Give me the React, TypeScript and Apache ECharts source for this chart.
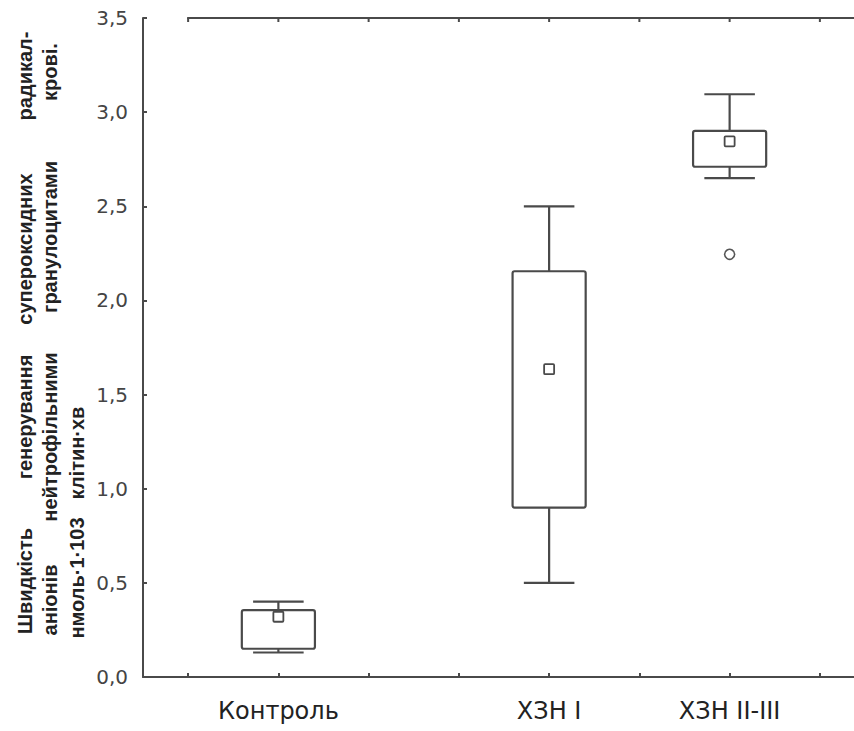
import React, { useEffect, useRef } from "react";
import * as echarts from "echarts";

// Category slots along the x axis (blank slots carry ticks only)
const categories = ["", "Контроль", "", "", "ХЗН I", "", "ХЗН II-III", ""];

// Box-plot statistics per group
const groups = ["Контроль", "ХЗН I", "ХЗН II-III"];
const whiskerLow = [0.13, 0.5, 2.65];
const quartile1 = [0.15, 0.9, 2.71];
const quartile3 = [0.355, 2.155, 2.9];
const whiskerHigh = [0.4, 2.5, 3.095];
const means = [0.32, 1.635, 2.845];

// Outliers
const outlierGroups = ["ХЗН II-III"];
const outlierValues = [2.245];

// Y tick labels
const yTicks = ["0,0", "0,5", "1,0", "1,5", "2,0", "2,5", "3,0", "3,5"];
const yMax = 3.5;

// Y-axis title words: [column, word]
const yTitleWords: [number, string][] = [
  [0, "Швидкість"],
  [0, "генерування"],
  [0, "супероксидних"],
  [0, "радикал-"],
  [1, "аніонів"],
  [1, "нейтрофільними"],
  [1, "гранулоцитами"],
  [1, "крові."],
  [2, "нмоль·1·103"],
  [2, "клітин·хв"],
];
// layout (pixel centres) for the title words, same order
const yTitleCols = [25, 50, 77];
const yTitleCentres = [581, 417, 249, 76, 600, 437, 237, 72, 578, 453];

const LINE = "#4a4a4a";

export default function App() {
  const ref = useRef<HTMLDivElement>(null);
  useEffect(() => {
    if (!ref.current) return;
    const chart = echarts.init(ref.current, undefined, { renderer: "svg" });
    const boxData = groups.map((g, i) => [
      categories.indexOf(g),
      whiskerLow[i],
      quartile1[i],
      quartile3[i],
      whiskerHigh[i],
      means[i],
    ]);
    const outData = outlierGroups.map((g, i) => [categories.indexOf(g), outlierValues[i]]);

    const titleGraphic: any[] = yTitleWords.map(([col, word], i) => ({
      type: "text",
      x: yTitleCols[col],
      y: yTitleCentres[i],
      rotation: Math.PI / 2,
      z: 1,
      style: {
        text: word,
        fill: "#222",
        font: "bold 20px 'Liberation Sans', Arial, sans-serif",
        textAlign: "center",
        textVerticalAlign: "middle",
      },
    }));

    chart.setOption({
      animation: false,
      backgroundColor: "#ffffff",
      grid: { left: 143, top: 18, right: 1, bottom: 54 },
      graphic: titleGraphic,
      xAxis: [
        {
          type: "category",
          data: categories,
          position: "bottom",
          axisLine: { show: true, onZero: false, lineStyle: { color: LINE, width: 2 } },
          axisTick: {
            show: true,
            inside: true,
            alignWithLabel: true,
            length: 4,
            lineStyle: { color: LINE, width: 2 },
          },
          axisLabel: {
            show: true,
            interval: 0,
            margin: 22,
            color: "#222",
            fontSize: 24,
            fontFamily: "'DejaVu Sans', sans-serif",
          },
          splitLine: { show: false },
        },
      ],
      yAxis: [
        {
          type: "value",
          min: 0,
          max: yMax,
          interval: 0.5,
          position: "left",
          axisLine: { show: true, onZero: false, lineStyle: { color: LINE, width: 2 } },
          axisTick: { show: true, inside: true, length: 4, lineStyle: { color: LINE, width: 2 } },
          axisLabel: {
            margin: 15,
            color: "#444",
            fontSize: 20,
            fontFamily: "'DejaVu Sans', sans-serif",
            formatter: (v: number) => yTicks[Math.round(v / 0.5)] ?? "",
          },
          splitLine: { show: false },
        },
      ],
      series: [
        {
          type: "custom",
          xAxisIndex: 0,
          yAxisIndex: 0,
          data: boxData,
          encode: { x: 0, y: [1, 2, 3, 4, 5] },
          renderItem: (params: any, api: any) => {
            const xi = api.value(0);
            const low = api.coord([xi, api.value(1)]);
            const q1 = api.coord([xi, api.value(2)]);
            const q3 = api.coord([xi, api.value(3)]);
            const high = api.coord([xi, api.value(4)]);
            const mean = api.coord([xi, api.value(5)]);
            const band = api.size([1, 0])[0];
            const bw = band * 0.81;
            const cw = band * 0.56;
            const cx = q1[0];
            const st = { stroke: LINE, lineWidth: 2.2, fill: "none" };
            const ms = 10;
            return {
              type: "group",
              children: [
                { type: "line", shape: { x1: cx, y1: high[1], x2: cx, y2: q3[1] }, style: st },
                { type: "line", shape: { x1: cx, y1: q1[1], x2: cx, y2: low[1] }, style: st },
                { type: "line", shape: { x1: cx - cw / 2, y1: high[1], x2: cx + cw / 2, y2: high[1] }, style: st },
                { type: "line", shape: { x1: cx - cw / 2, y1: low[1], x2: cx + cw / 2, y2: low[1] }, style: st },
                {
                  type: "rect",
                  shape: { x: cx - bw / 2, y: q3[1], width: bw, height: q1[1] - q3[1], r: 2 },
                  style: { stroke: LINE, lineWidth: 2.2, fill: "rgba(255,255,255,0)" },
                },
                {
                  type: "rect",
                  shape: { x: cx - ms / 2, y: mean[1] - ms / 2, width: ms, height: ms, r: 1 },
                  style: { stroke: LINE, lineWidth: 1.8, fill: "#ffffff" },
                },
              ],
            };
          },
        },
        {
          type: "scatter",
          xAxisIndex: 0,
          yAxisIndex: 0,
          data: outData,
          symbol: "circle",
          symbolSize: 10,
          itemStyle: { color: "#ffffff", borderColor: "#555", borderWidth: 1.6, opacity: 1 },
        },
      ],
    });

    // Top frame edge and its inward ticks, positioned through the chart's own scales
    const yTop = chart.convertToPixel({ yAxisIndex: 0 }, yMax) as number;
    const xLeft = chart.convertToPixel({ xAxisIndex: 0 }, -0.5) as number;
    const xRight = chart.convertToPixel({ xAxisIndex: 0 }, categories.length - 0.5) as number;
    const frame: any[] = [
      {
        type: "line",
        z: 100,
        shape: { x1: xLeft - 1, y1: yTop, x2: xRight, y2: yTop },
        style: { stroke: LINE, lineWidth: 2 },
      },
    ];
    categories.forEach((_, i) => {
      const xc = chart.convertToPixel({ xAxisIndex: 0 }, i) as number;
      frame.push({
        type: "line",
        z: 100,
        shape: { x1: xc, y1: yTop, x2: xc, y2: yTop + 4 },
        style: { stroke: LINE, lineWidth: 2 },
      });
    });
    chart.setOption({ graphic: [...titleGraphic, ...frame] });

    return () => chart.dispose();
  }, []);
  return (
    <div
      style={{
        position: "absolute",
        left: 0,
        top: 0,
        width: 854,
        height: 731,
        overflow: "hidden",
      }}
    >
      <div ref={ref} style={{ width: 866, height: 731 }} />
    </div>
  );
}
